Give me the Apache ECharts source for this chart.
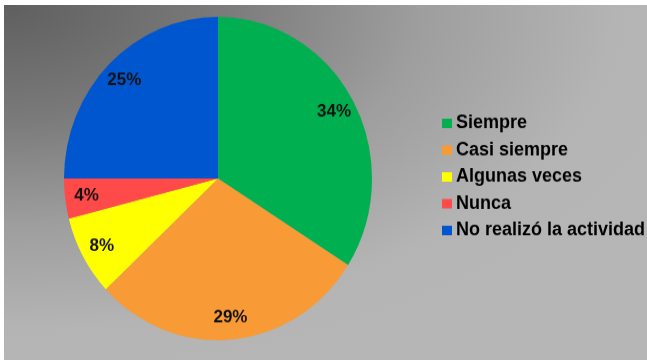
<!DOCTYPE html>
<html>
<head>
<meta charset="utf-8">
<script src="https://cdn.jsdelivr.net/npm/echarts@6/dist/echarts.min.js"></script>
<style>
  html, body { margin: 0; padding: 0; background: #ffffff; width: 647px; height: 360px; overflow: hidden; }
  #bg {
    position: absolute; left: 4px; top: 5px; width: 643px; height: 355px;
    background: radial-gradient(ellipse 720px 380px at 0px 0px, #5f5f5f 0%, #7a7a7a 30%, #9e9e9e 58%, #b4b4b4 85%, #b6b6b6 100%);
  }
  #chart {
    position: absolute; left: 0; top: 0; width: 647px; height: 343px;
    transform: scaleY(1.05); transform-origin: 0 0;
  }
</style>
</head>
<body>
<div id="bg"></div>
<div id="chart"></div>
<script>
const categories = ["Siempre", "Casi siempre", "Algunas veces", "Nunca", "No realizó la actividad"];
const values = [34, 29, 8, 4, 25];
const colors = ["#00B050", "#F89A36", "#FFFF00", "#FF4A4A", "#0056CE"];

const data = categories.map((name, i) => ({ name: name, value: values[i], itemStyle: { color: colors[i] } }));

const chart = echarts.init(document.getElementById('chart'), null, { renderer: 'canvas' });
chart.setOption({
  backgroundColor: 'transparent',
  animation: false,
  legend: {
    orient: 'vertical',
    left: 437,
    top: 103.5,
    itemWidth: 10,
    itemHeight: 9,
    itemGap: 7.5,
    icon: 'rect',
    textStyle: { fontFamily: 'Liberation Sans', fontWeight: 'bold', fontSize: 18, color: '#000000', padding: [0, 0, 0, -1] },
    data: categories
  },
  series: [
    {
      type: 'pie',
      center: [218, 170],
      radius: [0, 154],
      startAngle: 90,
      clockwise: true,
      label: { show: false },
      labelLine: { show: false },
      data: data
    },
    {
      type: 'pie',
      center: [218, 170],
      radius: [105, 154],
      startAngle: 90,
      clockwise: true,
      silent: true,
      itemStyle: { color: 'transparent' },
      label: {
        show: true,
        position: 'inside',
        formatter: '{d}%',
        fontFamily: 'Liberation Sans',
        fontWeight: 'bold',
        fontSize: 17,
        color: '#111111'
      },
      labelLine: { show: false },
      data: categories.map((name, i) => ({ name: name, value: values[i] }))
    }
  ]
});
</script>
</body>
</html>
